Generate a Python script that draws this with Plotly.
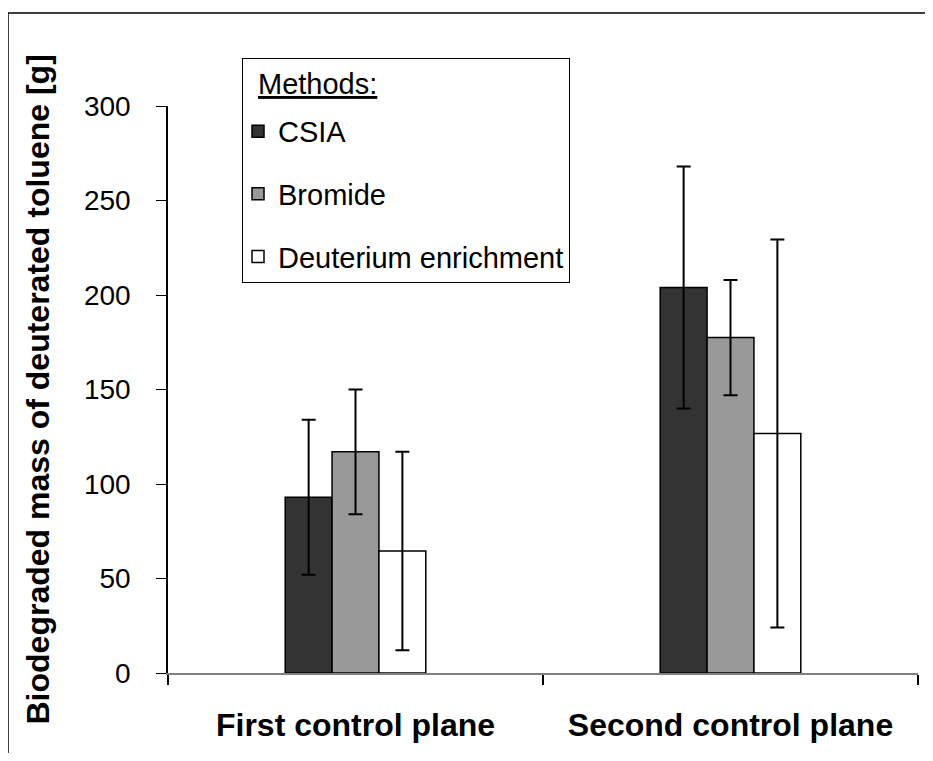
import plotly.graph_objects as go

categories = ["First control plane", "Second control plane"]
methods = ["CSIA", "Bromide", "Deuterium enrichment"]
csia = [93, 204]
csia_err = [41, 64]
bromide = [117, 177.5]
bromide_err = [33, 30.5]
deut = [64.5, 126.7]
deut_err = [52.5, 102.6]
y_ticks = [0, 50, 100, 150, 200, 250, 300]

series = [
    (methods[0], csia, csia_err, "#333333"),
    (methods[1], bromide, bromide_err, "#999999"),
    (methods[2], deut, deut_err, "#ffffff"),
]

FONT = "Liberation Sans, Arial, sans-serif"

fig = go.Figure()
for i, (name, vals, errs, col) in enumerate(series):
    fig.add_trace(go.Bar(
        x=categories, y=vals, name=name,
        marker=dict(color=col, line=dict(color="black", width=1.5)),
        error_y=dict(type="data", array=errs, visible=True, color="black",
                     thickness=2, width=7),
        legendgroup=f"g{i}",
    ))

# page body has an 8px margin; positions below are in window pixels minus 8
OFF = 8
W, H = 933 - 2 * OFF, 761 - 2 * OFF
L = 168 - OFF
T = 106 - OFF
R = W - (918 - OFF)
B = H - (673 - OFF)
pw, ph = W - L - R, H - T - B

def px_x(x):
    return (x - OFF - L) / pw

def px_y(y):
    return (H - B - (y - OFF)) / ph

fig.update_layout(
    width=W, height=H,
    margin=dict(l=L, r=R, t=T, b=B),
    paper_bgcolor="white", plot_bgcolor="white",
    barmode="group", bargap=0.625, bargroupgap=0,
    font=dict(family=FONT, color="black", size=28),
    showlegend=True,
    legend=dict(
        x=px_x(242), y=px_y(58), xanchor="left", yanchor="top",
        bgcolor="white", bordercolor="black", borderwidth=1,
        font=dict(size=29, family=FONT, color="black"),
        title=dict(text="&nbsp;", font=dict(size=36, family=FONT)),
        traceorder="grouped", tracegroupgap=22,
        indentation=-5,
    ),
    xaxis=dict(
        range=[-0.5, 1.5], showline=True, linecolor="#808080", linewidth=2,
        ticks="outside", tickson="boundaries", ticklen=10, tickcolor="black", tickwidth=1.5,
        tickfont=dict(size=32, family=FONT, color="black", weight="bold"),
        ticklabelstandoff=23, showgrid=False, zeroline=False,
    ),
    yaxis=dict(
        range=[0, 300], tickvals=y_ticks, showline=True, linecolor="black", linewidth=1.5,
        ticks="outside", ticklen=10, tickcolor="black", tickwidth=1,
        tickfont=dict(size=28, family=FONT, color="black"),
        ticklabelstandoff=20, showgrid=False, zeroline=False,
    ),
    annotations=[
        dict(
            text="<b>Biodegraded mass of deuterated toluene [g]</b>",
            xref="paper", yref="paper", x=px_x(37), y=0.5,
            xanchor="center", yanchor="middle", textangle=-90, showarrow=False,
            font=dict(size=32, family=FONT, color="black"),
        ),
        dict(
            text="<u>Methods:</u>",
            xref="paper", yref="paper", x=px_x(256), y=px_y(84),
            xanchor="left", yanchor="middle", showarrow=False,
            font=dict(size=29, family=FONT, color="black"),
        ),
    ],
    shapes=[dict(
        type="rect", xref="paper", yref="paper",
        x0=px_x(8), x1=px_x(960),
        y0=px_y(790), y1=px_y(13),
        line=dict(color="black", width=1.5), fillcolor="rgba(0,0,0,0)", layer="below",
    )],
)

fig.write_html("out.html")
